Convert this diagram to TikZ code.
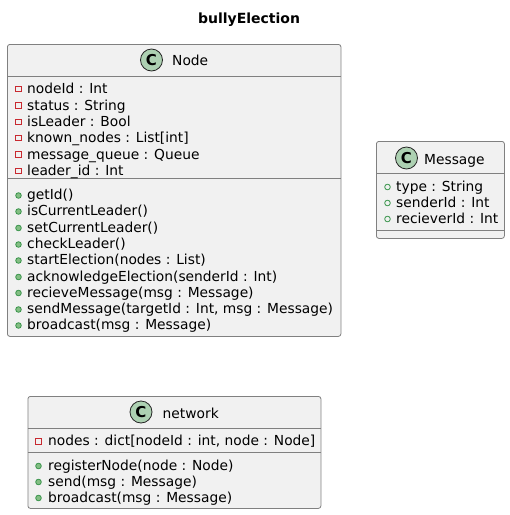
\documentclass[tikz,border=0pt]{standalone}
\usepackage{fontspec}
\setmainfont{DejaVu Sans}
\definecolor{boxfill}{HTML}{F1F1F1}
\definecolor{boxline}{HTML}{808080}
\definecolor{spotfill}{HTML}{ADD1B2}
\definecolor{privred}{HTML}{C82930}
\definecolor{pubgreen}{HTML}{38944A}
\definecolor{pubfill}{HTML}{84BE84}
\tikzset{
  classbox/.style = {draw = boxline, fill = boxfill, line width = 0.8pt, rounded corners = 2.5pt, anchor = north west, inner sep = 0pt},
  classrule/.style = {draw = boxline, line width = 0.8pt},
  spot/.style = {circle, draw = black!85, fill = spotfill, line width = 0.8pt, minimum size = 22pt, inner sep = 0pt, font = \fontsize{15}{15}\selectfont\bfseries},
  rowtext/.style = {anchor = base west, inner sep = 0pt, font = \fontsize{13.8}{14}\selectfont, text = black},
  privicon/.style = {rectangle, draw = privred, line width = 0.8pt, minimum size = 5.6pt, inner sep = 0pt},
  pubfield/.style = {circle, draw = pubgreen, line width = 0.8pt, minimum size = 5.6pt, inner sep = 0pt},
  pubmethod/.style = {circle, draw = pubgreen, fill = pubfill, line width = 0.8pt, minimum size = 5.6pt, inner sep = 0pt}
}
\begin{document}
\begin{tikzpicture}[x = 1pt, y = -1pt]
\useasboundingbox (0,0) rectangle (510,515);
\node[rowtext, anchor = base, font = \fontsize{14}{14}\selectfont\bfseries] (title) at (249,23) {bullyElection};
% Node
\node[classbox, minimum width = 333.5pt, minimum height = 292pt] (nodebox) at (7,44) {};
\draw[classrule] (nodebox.west |- 0,76) -- (nodebox.east |- 0,76);
\draw[classrule] (nodebox.west |- 0,178.5) -- (nodebox.east |- 0,178.5);
\node[spot] (nodespot) at (151.5,60) {C};
\node[rowtext] (nodename) at (172,65) {Node};
\foreach \n/\y/\t in {1/88.5/{nodeId : Int}, 2/105/{status : String}, 3/121.5/{isLeader : Bool}, 4/137.5/{known\_nodes : List[int]}, 5/154/{message\_queue : Queue}, 6/170.5/{leader\_id : Int}} {
  \node[privicon] (nodeicon\n) at (18.5,\y+0.5) {};
  \node[rowtext] (nodefield\n) at (27,\y+5) {\t};
}
\foreach \n/\y/\t in {1/194.5/{getId()}, 2/210.5/{isCurrentLeader()}, 3/227/{setCurrentLeader()}, 4/243.5/{checkLeader()}, 5/259.5/{startElection(nodes : List)}, 6/276/{acknowledgeElection(senderId : Int)}, 7/292/{recieveMessage(msg : Message)}, 8/308.5/{sendMessage(targetId : Int, msg : Message)}, 9/324.5/{broadcast(msg : Message)}} {
  \node[pubmethod] (nodemethodicon\n) at (18.5,\y+1) {};
  \node[rowtext] (nodemethod\n) at (27,\y+5) {\t};
}
% Message
\node[classbox, minimum width = 128pt, minimum height = 97pt] (msgbox) at (376,141) {};
\draw[classrule] (msgbox.west |- 0,173) -- (msgbox.east |- 0,173);
\draw[classrule] (msgbox.west |- 0,230) -- (msgbox.east |- 0,230);
\node[spot] (msgspot) at (406.5,158) {C};
\node[rowtext] (msgname) at (424,164) {Message};
\foreach \n/\y/\t in {1/186.5/{type : String}, 2/202.5/{senderId : Int}, 3/218.5/{recieverId : Int}} {
  \node[pubfield] (msgicon\n) at (387.5,\y+0.5) {};
  \node[rowtext] (msgfield\n) at (396,\y+5) {\t};
}
% network
\node[classbox, minimum width = 293pt, minimum height = 112pt] (netbox) at (27.5,396) {};
\draw[classrule] (netbox.west |- 0,428) -- (netbox.east |- 0,428);
\draw[classrule] (netbox.west |- 0,452) -- (netbox.east |- 0,452);
\node[spot] (netspot) at (141,412) {C};
\node[rowtext] (netname) at (162.5,418) {network};
\node[privicon] (neticon) at (38.5,441.5) {};
\node[rowtext] (netfield) at (48,445) {nodes : dict[nodeId : int, node : Node]};
\foreach \n/\y/\t in {1/465/{registerNode(node : Node)}, 2/481/{send(msg : Message)}, 3/497/{broadcast(msg : Message)}} {
  \node[pubmethod] (netmethodicon\n) at (38.5,\y+1) {};
  \node[rowtext] (netmethod\n) at (48,\y+5) {\t};
}
\end{tikzpicture}
\end{document}
